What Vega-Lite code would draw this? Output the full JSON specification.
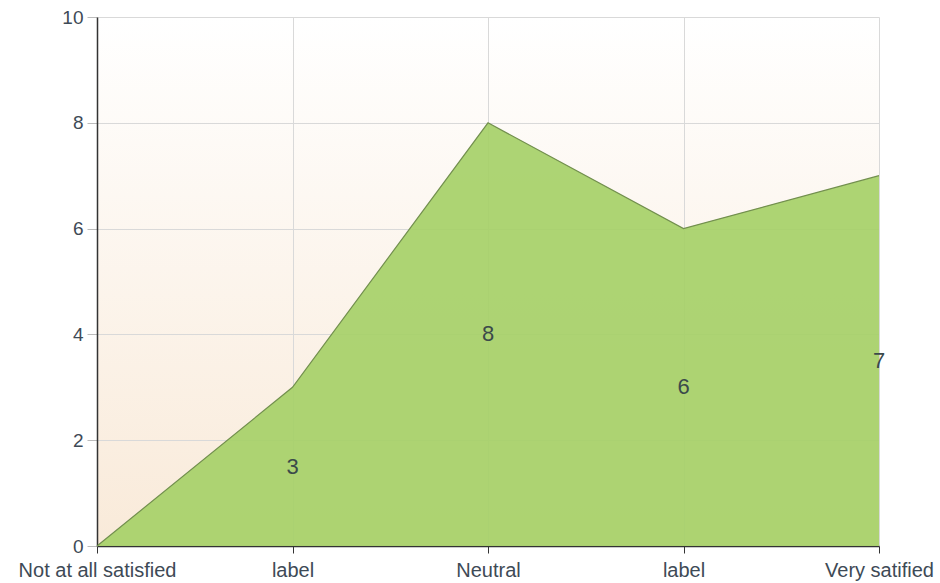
{
  "$schema": "https://vega.github.io/schema/vega-lite/v6.json",
  "width": 782,
  "height": 529,
  "autosize": {"type": "none"},
  "padding": {"left": 97, "top": 17, "right": 61, "bottom": 37},
  "background": "#ffffff",
  "config": {
    "font": "Liberation Sans",
    "view": {
      "stroke": null,
      "fill": {
        "gradient": "linear",
        "x1": 0, "y1": 0, "x2": 0, "y2": 1,
        "stops": [
          {"offset": 0, "color": "#ffffff"},
          {"offset": 1, "color": "#f9ead9"}
        ]
      }
    }
  },
  "data": {
    "values": [
      {"idx": 0, "category": "Not at all satisfied", "value": 0},
      {"idx": 1, "category": "label", "value": 3},
      {"idx": 2, "category": "Neutral", "value": 8},
      {"idx": 3, "category": "label", "value": 6},
      {"idx": 4, "category": "Very satified", "value": 7}
    ]
  },
  "encoding": {
    "x": {
      "field": "idx",
      "type": "quantitative",
      "scale": {"domain": [0, 4], "nice": false, "zero": false},
      "axis": {
        "title": null,
        "values": [0, 1, 2, 3, 4],
        "labelExpr": "['Not at all satisfied','label','Neutral','label','Very satified'][datum.value]",
        "labelFontSize": 20,
        "labelColor": "#3e4a56",
        "labelFlush": false,
        "labelPadding": 7,
        "tickSize": 7,
        "tickColor": "#333333",
        "domainColor": "#333333",
        "domainWidth": 1.5,
        "grid": true,
        "gridColor": "#d9d9d9",
        "gridWidth": 1
      }
    }
  },
  "layer": [
    {
      "mark": {"type": "area", "color": "#a6d068", "opacity": 0.92, "line": {"color": "#728f4e", "strokeWidth": 1.2}},
      "encoding": {
        "y": {
          "field": "value",
          "type": "quantitative",
          "scale": {"domain": [0, 10], "nice": false},
          "axis": {
            "title": null,
            "values": [0, 2, 4, 6, 8, 10],
            "labelFontSize": 19,
            "labelColor": "#3e4a56",
            "labelPadding": 4,
            "tickSize": 10,
            "tickColor": "#bbbbbb",
            "domainColor": "#333333",
            "domainWidth": 1.5,
            "grid": true,
            "gridColor": "#d9d9d9",
            "gridWidth": 1
          }
        }
      }
    },
    {
      "transform": [
        {"filter": "datum.value > 0"},
        {"calculate": "datum.value / 2", "as": "mid"}
      ],
      "mark": {"type": "text", "fontSize": 22, "color": "#3b4a4a", "baseline": "middle", "align": "center"},
      "encoding": {
        "y": {"field": "mid", "type": "quantitative"},
        "text": {"field": "value", "type": "quantitative"}
      }
    }
  ]
}
